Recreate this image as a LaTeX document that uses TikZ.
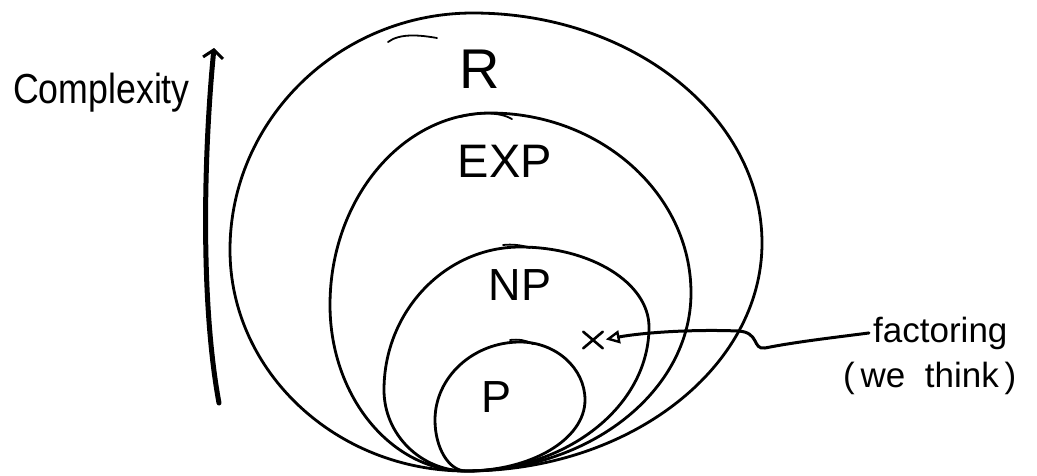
\documentclass[tikz,border=0pt]{standalone}
\usepackage{fontspec}
\setmainfont{Liberation Sans}
\usetikzlibrary{arrows.meta,shapes.misc}
\newcommand\cxblob[9]{%
  \pgfmathsetmacro\kBa{#2-0.55*(#2-#4)}%
  \pgfmathsetmacro\kBb{#5+0.55*(#3-#5)}%
  \pgfmathsetmacro\kLa{#5-0.55*(#5-#7)}%
  \pgfmathsetmacro\kLb{#6-0.55*(#6-#4)}%
  \pgfmathsetmacro\kTa{#6+0.55*(#8-#6)}%
  \pgfmathsetmacro\kTb{#9-0.55*(#9-#7)}%
  \pgfmathsetmacro\kRa{#9+0.55*(#3-#9)}%
  \pgfmathsetmacro\kRb{#2+0.55*(#8-#2)}%
  \draw[#1] (#2,#3) .. controls (\kBa,#3) and (#4,\kBb) .. (#4,#5)
     .. controls (#4,\kLa) and (\kLb,#7) .. (#6,#7)
     .. controls (\kTa,#7) and (#8,\kTb) .. (#8,#9)
     .. controls (#8,\kRa) and (\kRb,#3) .. cycle;
}
\tikzset{
  ring/.style={line width=2.8pt, line join=round},
  over/.style={line width=1.8pt, line cap=round},
  cls/.style={inner sep=0pt, anchor=base},
  note/.style={inner sep=0pt, anchor=base west},
  xmark/.style={cross out, draw, line width=2.6pt, line cap=round, minimum width=17pt, minimum height=14pt, inner sep=0pt},
  axis/.style={line width=5pt, line cap=round, -{Straight Barb[length=8pt,width=20pt,line width=3pt]}},
  conn/.style={line width=3pt, line cap=round, shorten >=3pt, -{Triangle[open,length=14pt,width=13pt,line width=2.4pt]}}
}
\begin{document}
\begin{tikzpicture}[x=1pt,y=-1pt]
\useasboundingbox (0,0) rectangle (1037,475);
% nested classes
\cxblob{ring}{466}{471}{230}{250}{473}{13}{762}{243}
\cxblob{ring}{466}{471}{330}{305}{490}{113}{691}{293}
\cxblob{ring}{466}{471}{384}{390}{520}{247}{649}{327}
\cxblob{ring}{466}{471}{435}{420}{520}{342}{585}{400}
% small over-strokes at the tops
\draw[over] (388,42) .. controls (400,33) and (420,35) .. (437,38);
\draw[over] (460,117) .. controls (480,112) and (500,112) .. (512,119);
\draw[over] (503,245) .. controls (512,244) and (522,245) .. (530,248);
\draw[over] (510,340) .. controls (518,339) and (526,340) .. (533,344);
% labels
\node[cls, font=\fontsize{56}{60}\selectfont] (lR) at (480,88) {R};
\node[cls, font=\fontsize{47}{50}\selectfont] (lEXP) at (505,177) {EXP};
\node[cls, font=\fontsize{45}{48}\selectfont] (lNP) at (520,300) {NP};
\node[cls, font=\fontsize{45}{48}\selectfont] (lP) at (497,412) {P};
% complexity axis
\node[note, font=\fontsize{42}{44}\selectfont] (cplx) at (13,103) {\scalebox{0.85}[1]{Complexity}};
\coordinate (axb) at (219,403);
\coordinate (axt) at (214,48);
\draw[axis] (axb) .. controls (200,300) and (204,150) .. (axt);
% factoring
\node[xmark] (xm) at (593,340) {};
\node[note, font=\fontsize{35}{38}\selectfont] (fact) at (873,342) {factoring};
\node[note, font=\fontsize{35}{38}\selectfont] (think) at (843,387) {(\,we\;\;think\,)};
\draw[conn] ([xshift=-4pt]fact.west) .. controls (830,338) and (795,342) .. (765,348)
   .. controls (752,350) and (760,332) .. (738,331)
   .. controls (690,329) and (640,333) .. (xm.east);
\end{tikzpicture}
\end{document}
